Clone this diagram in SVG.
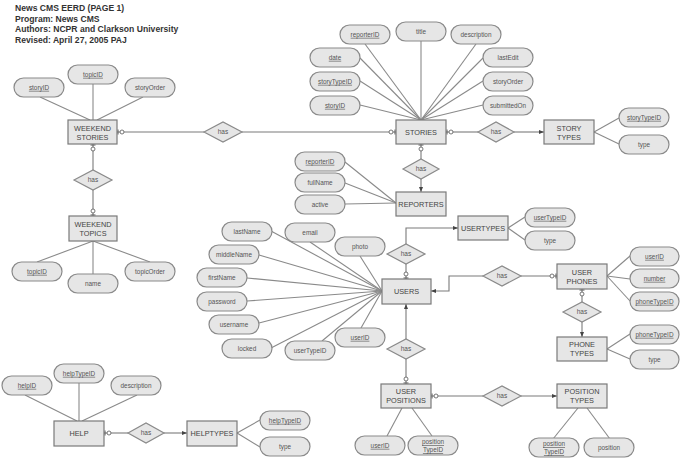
<svg xmlns="http://www.w3.org/2000/svg" width="680" height="458" viewBox="0 0 680 458">
<style>
.bg{fill:#ffffff}
.title{font-family:"Liberation Sans",Arial,sans-serif;font-size:8.6px;font-weight:bold;fill:#333}
.ent rect{fill:#e6e6e6;stroke:#7a7a7a;stroke-width:1.2}
.ent text{font-family:"Liberation Sans",Arial,sans-serif;font-size:7.3px;fill:#444;text-anchor:middle}
.rel polygon{fill:#e6e6e6;stroke:#8a8a8a;stroke-width:1.2}
.rel text{font-family:"Liberation Sans",Arial,sans-serif;font-size:6.5px;fill:#555;text-anchor:middle}
.att rect{fill:#e6e6e6;stroke:#8a8a8a;stroke-width:1.2}
.att text{font-family:"Liberation Sans",Arial,sans-serif;font-size:6.4px;fill:#555;text-anchor:middle}
.att text.k{text-decoration:underline}
.ln{stroke:#8a8a8a;stroke-width:1.1;fill:none}
.cn{stroke:#7a7a7a;stroke-width:1.1;fill:none}
.z{marker-end:url(#zero)}
.o{marker-end:url(#one)}
</style>
<defs>
<marker id="zero" markerUnits="userSpaceOnUse" markerWidth="12" markerHeight="10" refX="11" refY="5" orient="auto">
<line x1="10" y1="2.5" x2="10" y2="7.5" stroke="#555" stroke-width="1"/>
<circle cx="6" cy="5" r="2" fill="#fff" stroke="#666" stroke-width="0.9"/>
</marker>
<marker id="one" markerUnits="userSpaceOnUse" markerWidth="12" markerHeight="10" refX="11" refY="5" orient="auto">
<polygon points="6,3 11,5 6,7" fill="#444"/>
</marker>
</defs>
<rect class="bg" x="0" y="0" width="680" height="458"/>

<g id="title">
<text class="title" x="15" y="11">News CMS EERD (PAGE 1)</text>
<text class="title" x="15" y="21.5">Program: News CMS</text>
<text class="title" x="15" y="32">Authors: NCPR and Clarkson University</text>
<text class="title" x="15" y="42.5">Revised: April 27, 2005 PAJ</text>
</g>

<g id="connectors">
<!-- attribute lines -->
<line class="ln" x1="40" y1="97" x2="90" y2="120"/>
<line class="ln" x1="93" y1="84" x2="93" y2="120"/>
<line class="ln" x1="143" y1="97" x2="97" y2="120"/>
<line class="ln" x1="93" y1="241" x2="37" y2="262"/>
<line class="ln" x1="93" y1="241" x2="93" y2="274"/>
<line class="ln" x1="93" y1="241" x2="150" y2="262"/>
<line class="ln" x1="365" y1="44" x2="421" y2="120"/>
<line class="ln" x1="421" y1="41" x2="421" y2="120"/>
<line class="ln" x1="476" y1="44" x2="421" y2="120"/>
<line class="ln" x1="360" y1="58" x2="421" y2="120"/>
<line class="ln" x1="360" y1="81" x2="421" y2="120"/>
<line class="ln" x1="360" y1="105" x2="421" y2="120"/>
<line class="ln" x1="483" y1="58" x2="421" y2="120"/>
<line class="ln" x1="483" y1="81" x2="421" y2="120"/>
<line class="ln" x1="483" y1="105" x2="421" y2="120"/>
<line class="ln" x1="594" y1="132" x2="619" y2="118"/>
<line class="ln" x1="594" y1="132" x2="619" y2="144"/>
<line class="ln" x1="345" y1="162" x2="396" y2="203"/>
<line class="ln" x1="345" y1="183" x2="396" y2="203"/>
<line class="ln" x1="345" y1="204" x2="396" y2="203"/>
<line class="ln" x1="508" y1="228" x2="525" y2="217"/>
<line class="ln" x1="508" y1="228" x2="525" y2="240"/>
<line class="ln" x1="271" y1="231" x2="382" y2="291"/>
<line class="ln" x1="310" y1="242" x2="382" y2="291"/>
<line class="ln" x1="360" y1="256" x2="382" y2="291"/>
<line class="ln" x1="259" y1="255" x2="382" y2="291"/>
<line class="ln" x1="247" y1="278" x2="382" y2="291"/>
<line class="ln" x1="247" y1="301" x2="382" y2="291"/>
<line class="ln" x1="259" y1="323" x2="382" y2="291"/>
<line class="ln" x1="271" y1="348" x2="382" y2="291"/>
<line class="ln" x1="322" y1="341" x2="382" y2="291"/>
<line class="ln" x1="361" y1="328" x2="382" y2="291"/>
<line class="ln" x1="607" y1="276" x2="630" y2="256"/>
<line class="ln" x1="607" y1="276" x2="630" y2="279"/>
<line class="ln" x1="607" y1="276" x2="630" y2="301"/>
<line class="ln" x1="607" y1="349" x2="630" y2="334"/>
<line class="ln" x1="607" y1="349" x2="630" y2="359"/>
<line class="ln" x1="402" y1="408" x2="387" y2="436"/>
<line class="ln" x1="412" y1="408" x2="432" y2="436"/>
<line class="ln" x1="578" y1="408" x2="553" y2="439"/>
<line class="ln" x1="587" y1="408" x2="610" y2="439"/>
<line class="ln" x1="25" y1="395" x2="77" y2="421"/>
<line class="ln" x1="79" y1="383" x2="79" y2="421"/>
<line class="ln" x1="137" y1="395" x2="82" y2="421"/>
<line class="ln" x1="237" y1="433" x2="260" y2="420"/>
<line class="ln" x1="237" y1="433" x2="260" y2="447"/>
<!-- relationship lines -->
<line class="cn z" x1="204" y1="132" x2="117" y2="132"/>
<line class="cn z" x1="242" y1="132" x2="396" y2="132"/>
<line class="cn z" x1="93" y1="170" x2="93" y2="144"/>
<line class="cn z" x1="93" y1="190" x2="93" y2="216"/>
<line class="cn z" x1="478" y1="132" x2="446" y2="132"/>
<line class="cn o" x1="514" y1="132" x2="544" y2="132"/>
<line class="cn z" x1="421" y1="159" x2="421" y2="144"/>
<line class="cn o" x1="421" y1="179" x2="421" y2="192"/>
<line class="cn z" x1="406" y1="264" x2="406" y2="279"/>
<path class="cn o" d="M406,244 V228 H458"/>
<path class="cn o" d="M483,276 H449 V291 H431"/>
<line class="cn z" x1="521" y1="276" x2="557" y2="276"/>
<line class="cn z" x1="582" y1="302" x2="582" y2="289"/>
<line class="cn o" x1="582" y1="322" x2="582" y2="337"/>
<line class="cn o" x1="406" y1="339" x2="406" y2="304"/>
<line class="cn z" x1="406" y1="359" x2="406" y2="384"/>
<line class="cn z" x1="483" y1="396" x2="431" y2="396"/>
<line class="cn o" x1="521" y1="396" x2="557" y2="396"/>
<line class="cn z" x1="128" y1="433" x2="104" y2="433"/>
<line class="cn o" x1="164" y1="433" x2="187" y2="433"/>
</g>

<g id="weekend-stories" class="ent"><rect x="68" y="120" width="49" height="24"/><text x="92.5" y="130.5">WEEKEND</text><text x="92.5" y="139.5">STORIES</text></g>
<g id="weekend-topics" class="ent"><rect x="69" y="216" width="48" height="25"/><text x="93" y="227">WEEKEND</text><text x="93" y="236">TOPICS</text></g>
<g id="stories" class="ent"><rect x="396" y="120" width="50" height="24"/><text x="421" y="134.5">STORIES</text></g>
<g id="story-types" class="ent"><rect x="544" y="120" width="50" height="24"/><text x="569" y="130.5">STORY</text><text x="569" y="139.5">TYPES</text></g>
<g id="reporters" class="ent"><rect x="396" y="192" width="50" height="24"/><text x="421" y="206.5">REPORTERS</text></g>
<g id="usertypes" class="ent"><rect x="458" y="216" width="50" height="24"/><text x="483" y="230.5">USERTYPES</text></g>
<g id="users" class="ent"><rect x="382" y="279" width="49" height="25"/><text x="406.5" y="294">USERS</text></g>
<g id="user-phones" class="ent"><rect x="557" y="264" width="50" height="25"/><text x="582" y="274.5">USER</text><text x="582" y="283.5">PHONES</text></g>
<g id="phone-types" class="ent"><rect x="557" y="337" width="50" height="24"/><text x="582" y="347">PHONE</text><text x="582" y="356">TYPES</text></g>
<g id="user-positions" class="ent"><rect x="381" y="384" width="50" height="24"/><text x="406" y="394">USER</text><text x="406" y="403">POSITIONS</text></g>
<g id="position-types" class="ent"><rect x="557" y="384" width="50" height="24"/><text x="582" y="394">POSITION</text><text x="582" y="403">TYPES</text></g>
<g id="help" class="ent"><rect x="54" y="421" width="50" height="25"/><text x="79" y="436">HELP</text></g>
<g id="helptypes" class="ent"><rect x="187" y="421" width="50" height="25"/><text x="212" y="436">HELPTYPES</text></g>

<g id="has-ws-stories" class="rel"><polygon points="204,132 223,122 242,132 223,142"/><text x="223" y="134.3">has</text></g>
<g id="has-ws-wt" class="rel"><polygon points="74,180 93,170 112,180 93,190"/><text x="93" y="182.3">has</text></g>
<g id="has-stories-types" class="rel"><polygon points="478,132 496,122 514,132 496,142"/><text x="496" y="134.3">has</text></g>
<g id="has-stories-reporters" class="rel"><polygon points="403,169 421,159 439,169 421,179"/><text x="421" y="171.3">has</text></g>
<g id="has-users-usertypes" class="rel"><polygon points="387,254 406,244 425,254 406,264"/><text x="406" y="256.3">has</text></g>
<g id="has-users-phones" class="rel"><polygon points="483,276 502,266 521,276 502,286"/><text x="502" y="278.3">has</text></g>
<g id="has-phones-types" class="rel"><polygon points="563,312 582,302 601,312 582,322"/><text x="582" y="314.3">has</text></g>
<g id="has-users-positions" class="rel"><polygon points="387,349 406,339 425,349 406,359"/><text x="406" y="351.3">has</text></g>
<g id="has-positions-types" class="rel"><polygon points="483,396 502,386 521,396 502,406"/><text x="502" y="398.3">has</text></g>
<g id="has-help-types" class="rel"><polygon points="128,433 146,423 164,433 146,443"/><text x="146" y="435.3">has</text></g>

<g id="ws-storyID" class="att"><rect x="14" y="78" width="50" height="19" rx="9.5"/><text class="k" x="39" y="89.8">storyID</text></g>
<g id="ws-topicID" class="att"><rect x="68" y="65" width="50" height="19" rx="9.5"/><text class="k" x="93" y="76.8">topicID</text></g>
<g id="ws-storyOrder" class="att"><rect x="125" y="78" width="50" height="19" rx="9.5"/><text x="150" y="89.8">storyOrder</text></g>
<g id="wt-topicID" class="att"><rect x="12" y="262" width="50" height="19" rx="9.5"/><text class="k" x="37" y="273.8">topicID</text></g>
<g id="wt-name" class="att"><rect x="68" y="274" width="50" height="19" rx="9.5"/><text x="93" y="285.8">name</text></g>
<g id="wt-topicOrder" class="att"><rect x="125" y="262" width="50" height="19" rx="9.5"/><text x="150" y="273.8">topicOrder</text></g>
<g id="s-reporterID" class="att"><rect x="340" y="25" width="50" height="19" rx="9.5"/><text class="k" x="365" y="36.8">reporterID</text></g>
<g id="s-title" class="att"><rect x="396" y="22" width="50" height="19" rx="9.5"/><text x="421" y="33.8">title</text></g>
<g id="s-description" class="att"><rect x="451" y="25" width="50" height="19" rx="9.5"/><text x="476" y="36.8">description</text></g>
<g id="s-date" class="att"><rect x="310" y="48" width="50" height="19" rx="9.5"/><text class="k" x="335" y="59.8">date</text></g>
<g id="s-lastEdit" class="att"><rect x="483" y="48" width="50" height="19" rx="9.5"/><text x="508" y="59.8">lastEdit</text></g>
<g id="s-storyTypeID" class="att"><rect x="310" y="72" width="50" height="19" rx="9.5"/><text class="k" x="335" y="83.8">storyTypeID</text></g>
<g id="s-storyOrder" class="att"><rect x="483" y="72" width="50" height="19" rx="9.5"/><text x="508" y="83.8">storyOrder</text></g>
<g id="s-storyID" class="att"><rect x="310" y="96" width="50" height="19" rx="9.5"/><text class="k" x="335" y="107.8">storyID</text></g>
<g id="s-submittedOn" class="att"><rect x="483" y="96" width="50" height="19" rx="9.5"/><text x="508" y="107.8">submittedOn</text></g>
<g id="st-storyTypeID" class="att"><rect x="619" y="108" width="50" height="19" rx="9.5"/><text class="k" x="644" y="119.8">storyTypeID</text></g>
<g id="st-type" class="att"><rect x="619" y="135" width="50" height="19" rx="9.5"/><text x="644" y="146.8">type</text></g>
<g id="r-reporterID" class="att"><rect x="295" y="152" width="50" height="19" rx="9.5"/><text class="k" x="320" y="163.8">reporterID</text></g>
<g id="r-fullName" class="att"><rect x="295" y="173" width="50" height="19" rx="9.5"/><text x="320" y="184.8">fullName</text></g>
<g id="r-active" class="att"><rect x="295" y="195" width="50" height="19" rx="9.5"/><text x="320" y="206.8">active</text></g>
<g id="ut-userTypeID" class="att"><rect x="525" y="208" width="50" height="19" rx="9.5"/><text class="k" x="550" y="219.8">userTypeID</text></g>
<g id="ut-type" class="att"><rect x="525" y="231" width="50" height="19" rx="9.5"/><text x="550" y="242.8">type</text></g>
<g id="u-lastName" class="att"><rect x="222" y="222" width="50" height="19" rx="9.5"/><text x="247" y="233.8">lastName</text></g>
<g id="u-email" class="att"><rect x="285" y="223" width="50" height="19" rx="9.5"/><text x="310" y="234.8">email</text></g>
<g id="u-photo" class="att"><rect x="335" y="237" width="50" height="19" rx="9.5"/><text x="360" y="248.8">photo</text></g>
<g id="u-middleName" class="att"><rect x="209" y="245" width="50" height="19" rx="9.5"/><text x="234" y="256.8">middleName</text></g>
<g id="u-firstName" class="att"><rect x="197" y="268" width="50" height="19" rx="9.5"/><text x="222" y="279.8">firstName</text></g>
<g id="u-password" class="att"><rect x="197" y="292" width="50" height="19" rx="9.5"/><text x="222" y="303.8">password</text></g>
<g id="u-username" class="att"><rect x="209" y="315" width="50" height="19" rx="9.5"/><text x="234" y="326.8">username</text></g>
<g id="u-locked" class="att"><rect x="222" y="339" width="50" height="19" rx="9.5"/><text x="247" y="350.8">locked</text></g>
<g id="u-userTypeID" class="att"><rect x="285" y="341" width="50" height="19" rx="9.5"/><text x="310" y="352.8">userTypeID</text></g>
<g id="u-userID" class="att"><rect x="335" y="328" width="50" height="19" rx="9.5"/><text class="k" x="360" y="339.8">userID</text></g>
<g id="up-userID" class="att"><rect x="630" y="247" width="49" height="19" rx="9.5"/><text class="k" x="654.5" y="258.8">userID</text></g>
<g id="up-number" class="att"><rect x="630" y="269" width="49" height="19" rx="9.5"/><text class="k" x="654.5" y="280.8">number</text></g>
<g id="up-phoneTypeID" class="att"><rect x="630" y="292" width="49" height="19" rx="9.5"/><text class="k" x="654.5" y="303.8">phoneTypeID</text></g>
<g id="pt-phoneTypeID" class="att"><rect x="630" y="325" width="49" height="19" rx="9.5"/><text class="k" x="654.5" y="336.8">phoneTypeID</text></g>
<g id="pt-type" class="att"><rect x="630" y="350" width="49" height="19" rx="9.5"/><text x="654.5" y="361.8">type</text></g>
<g id="upos-userID" class="att"><rect x="355" y="436" width="50" height="19" rx="9.5"/><text class="k" x="380" y="447.8">userID</text></g>
<g id="upos-positionTypeID" class="att"><rect x="408" y="436" width="50" height="19" rx="9.5"/><text class="k" x="433" y="444">position</text><text class="k" x="433" y="452">TypeID</text></g>
<g id="post-positionTypeID" class="att"><rect x="529" y="438" width="50" height="19" rx="9.5"/><text class="k" x="554" y="446">position</text><text class="k" x="554" y="454">TypeID</text></g>
<g id="post-position" class="att"><rect x="584" y="438" width="50" height="19" rx="9.5"/><text x="609" y="449.8">position</text></g>
<g id="h-helpID" class="att"><rect x="2" y="376" width="50" height="19" rx="9.5"/><text class="k" x="27" y="387.8">helpID</text></g>
<g id="h-helpTypeID" class="att"><rect x="54" y="364" width="50" height="19" rx="9.5"/><text class="k" x="79" y="375.8">helpTypeID</text></g>
<g id="h-description" class="att"><rect x="111" y="376" width="50" height="19" rx="9.5"/><text x="136" y="387.8">description</text></g>
<g id="ht-helpTypeID" class="att"><rect x="260" y="411" width="50" height="19" rx="9.5"/><text class="k" x="285" y="422.8">helpTypeID</text></g>
<g id="ht-type" class="att"><rect x="260" y="437" width="50" height="19" rx="9.5"/><text x="285" y="448.8">type</text></g>
</svg>
